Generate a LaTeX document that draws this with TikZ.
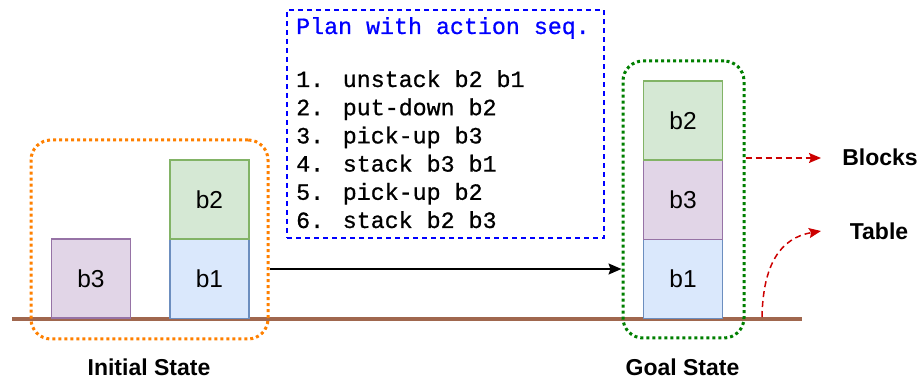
\documentclass[tikz,border=0pt]{standalone}
\usepackage{fontspec}
\setmainfont{Liberation Sans}
\newfontfamily\monofont[FakeBold=0.8]{Liberation Mono}
\usetikzlibrary{arrows.meta}
\definecolor{gfill}{HTML}{D5E8D4}\definecolor{gline}{HTML}{82B366}
\definecolor{pfill}{HTML}{E1D5E7}\definecolor{pline}{HTML}{9673A6}
\definecolor{bfill}{HTML}{DAE8FC}\definecolor{bline}{HTML}{6C8EBF}
\definecolor{orangebox}{HTML}{FF8000}
\definecolor{greenbox}{HTML}{007F00}
\definecolor{tablecol}{HTML}{A0674E}
\definecolor{redarrow}{HTML}{CC0000}
\begin{document}
\begin{tikzpicture}[x=1pt,y=-1pt,
  block/.style={draw,line width=1.3pt,minimum width=79pt,minimum height=79pt,inner sep=0pt,font=\fontsize{24.5}{28}\selectfont},
  gblock/.style={block,fill=gfill,draw=gline},
  pblock/.style={block,fill=pfill,draw=pline},
  bblock/.style={block,fill=bfill,draw=bline},
  statebox/.style={draw,rounded corners=20pt,line width=3pt,dash pattern=on 3pt off 3pt,inner sep=0pt},
  biglabel/.style={font=\fontsize{23}{27}\bfseries\selectfont,inner sep=0pt},
  planline/.style={anchor=base west,inner sep=0pt,font=\monofont\fontsize{23.3}{28}\selectfont},
  reddash/.style={draw=redarrow,line width=1.5pt,dash pattern=on 6pt off 4pt,-{Stealth[length=12pt,width=10pt,inset=2pt]}}
]
\useasboundingbox (0,0) rectangle (922,379);
% table
\draw[tablecol,line width=4pt] (12,319) coordinate (tl) -- (802,319) coordinate (tr);
% initial state
\node[pblock] (ib3) at (91,278.5) {b3};
\node[bblock] (ib1) at (209.5,279) {b1};
\node[gblock] (ib2) at (209.5,199.5) {b2};
\node[statebox,draw=orangebox,minimum width=237pt,minimum height=199pt] (init) at (149.5,239.5) {};
\node[biglabel] (initlab) at (149,367) {Initial State};
% goal state
\node[bblock] (gb1) at (683,279) {b1};
\node[pblock] (gb3) at (683,200) {b3};
\node[gblock] (gb2) at (683,120.5) {b2};
\node[statebox,draw=greenbox,minimum width=121pt,minimum height=277pt] (goal) at (683.5,199.5) {};
\node[biglabel] (goallab) at (682.5,367) {Goal State};
% plan box
\node[draw=blue,line width=2pt,dash pattern=on 5pt off 4pt,minimum width=317pt,minimum height=228pt,inner sep=0pt] (plan) at (445.5,124) {};
\node[planline,text=blue] (p0) at (296,34) {Plan with action seq.};
\node[planline] (p1) at (296,87) {1. unstack b2 b1};
\node[planline] (p2) at (296,115.2) {2. put-down b2};
\node[planline] (p3) at (296,143.4) {3. pick-up b3};
\node[planline] (p4) at (296,171.6) {4. stack b3 b1};
\node[planline] (p5) at (296,199.8) {5. pick-up b2};
\node[planline] (p6) at (296,228) {6. stack b2 b3};
% main arrow
\coordinate (ay) at (0,269);
\draw[line width=1.5pt,-{Stealth[length=13pt,width=11pt,inset=2pt]}] (init.east |- ay) -- (goal.west |- ay);
% legend
\node[biglabel] (blocks) at (880,157) {Blocks};
\node[biglabel] (tablelab) at (879,231) {Table};
\coordinate (bend) at (821,158);
\coordinate (tend) at (821,231);
\coordinate (tstart) at (762,317);
\draw[reddash] (goal.east |- bend) -- (bend);
\draw[reddash] (tstart) .. controls (763,265) and (780,238) .. (tend);
\end{tikzpicture}
\end{document}
